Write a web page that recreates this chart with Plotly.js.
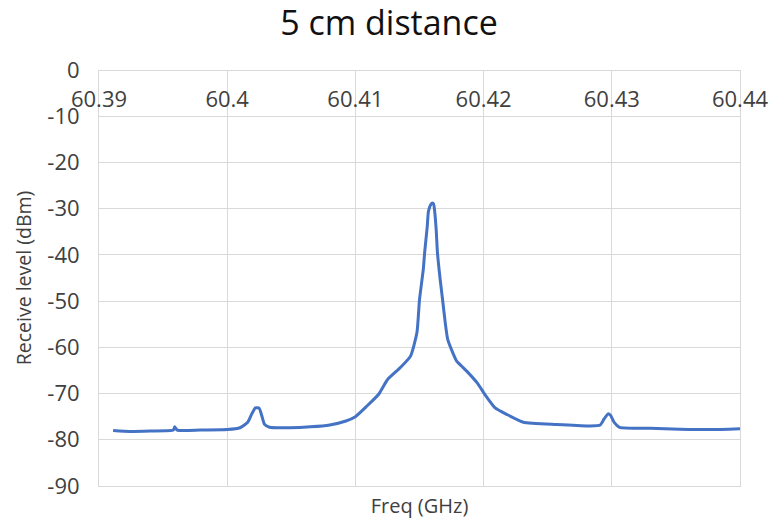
<!DOCTYPE html>
<html>
<head>
<meta charset="utf-8">
<script src="https://cdn.plot.ly/plotly-3.0.1.min.js"></script>
<style>html,body{margin:0;padding:0;background:#fff;}#chart{width:778px;height:519px;}</style>
</head>
<body>
<div id="chart"></div>
<script>
// Frequency (GHz)
const freqGHz = [
  60.3911, 60.3924, 60.3940, 60.3958, 60.3959, 60.3961, 60.3979, 60.4000, 60.4010,
  60.4016, 60.4019, 60.4022, 60.4025, 60.4027, 60.4029, 60.4033, 60.4049, 60.4065,
  60.4080, 60.4092, 60.4100, 60.4109, 60.4118, 60.4125, 60.4135, 60.4143, 60.4148,
  60.4150, 60.4153, 60.4154, 60.4156, 60.4157, 60.4159, 60.4160, 60.4161, 60.4162,
  60.4163, 60.4164, 60.4166, 60.4168, 60.4170, 60.4172, 60.4176, 60.4179, 60.4183,
  60.4187, 60.4195, 60.4201, 60.4209, 60.4218, 60.4231, 60.4257, 60.4283, 60.4291,
  60.4294, 60.4297, 60.4299, 60.4302, 60.4306, 60.4330, 60.4353, 60.4377, 60.4400
];
// Receive level (dBm)
const levelDBm = [
  -78.0, -78.2, -78.1, -77.9, -77.2, -77.9, -77.9, -77.8, -77.4,
  -76.2, -74.5, -73.1, -73.2, -74.8, -76.6, -77.3, -77.4, -77.2,
  -76.8, -76.0, -75.0, -72.7, -70.2, -67.0, -64.4, -61.9, -56.8,
  -49.7, -43.0, -39.5, -34.0, -30.5, -29.0, -28.8, -29.0, -31.0,
  -34.5, -39.5, -45.0, -49.7, -54.5, -58.3, -61.2, -63.0, -64.1,
  -65.2, -67.7, -70.2, -73.1, -74.5, -76.2, -76.7, -77.0, -76.8,
  -75.5, -74.4, -74.7, -76.3, -77.3, -77.5, -77.7, -77.8, -77.6
];
const xTicks = [60.39, 60.40, 60.41, 60.42, 60.43, 60.44];
const xTickLabels = ["60.39", "60.4", "60.41", "60.42", "60.43", "60.44"];
const yTicks = [0, -10, -20, -30, -40, -50, -60, -70, -80, -90];
const yTickLabels = ["0", "-10", "-20", "-30", "-40", "-50", "-60", "-70", "-80", "-90"];

const gridColor = '#d9d9d9';
const font = 'Open Sans, Noto Sans, sans-serif';

const trace = {
  x: freqGHz, y: levelDBm, type: 'scatter', mode: 'lines',
  line: {color: '#4472c4', width: 3, shape: 'spline', smoothing: 0.5},
  hoverinfo: 'skip'
};
const titleTrace = {x: [60.39, 60.44], y: [null, null], xaxis: 'x2', yaxis: 'y', type: 'scatter', mode: 'lines', showlegend: false, hoverinfo: 'skip'};

const layout = {
  width: 778, height: 519,
  margin: {l: 99, r: 38, t: 70, b: 33},
  paper_bgcolor: '#fff', plot_bgcolor: '#fff',
  showlegend: false,
  font: {family: font, color: '#404040'},
  title: {text: '5 cm distance', font: {family: font, size: 34, color: '#111'}, x: 0.5, xanchor: 'center', y: 0.955, yanchor: 'middle'},
  xaxis: {
    range: [60.39, 60.44], side: 'bottom', anchor: 'free', position: 1,
    tickmode: 'array', tickvals: xTicks, ticktext: xTickLabels,
    ticks: 'outside', ticklen: 10, tickcolor: 'rgba(0,0,0,0)',
    tickfont: {family: font, size: 22, color: '#404040'},
    showgrid: true, gridcolor: gridColor, gridwidth: 1,
    zeroline: false, showline: true, linecolor: gridColor
  },
  xaxis2: {
    range: [60.39, 60.44], overlaying: 'x', side: 'bottom', anchor: 'y',
    showticklabels: false, showgrid: false, zeroline: false, ticks: '',
    showline: true, linecolor: gridColor,
    title: {text: 'Freq (GHz)', font: {family: font, size: 20, color: '#404040'}, standoff: 12}
  },
  yaxis: {
    range: [-90, 0], tickmode: 'array', tickvals: yTicks, ticktext: yTickLabels,
    ticks: 'outside', ticklen: 14, tickcolor: 'rgba(0,0,0,0)',
    tickfont: {family: font, size: 22, color: '#404040'},
    showgrid: true, gridcolor: gridColor, gridwidth: 1,
    zeroline: false, showline: true, linecolor: gridColor, mirror: true,
    title: {text: 'Receive level (dBm)', font: {family: font, size: 19.5, color: '#404040'}, standoff: 10}
  }
};

Plotly.newPlot('chart', [trace, titleTrace], layout, {displayModeBar: false, staticPlot: true});
</script>
</body>
</html>
